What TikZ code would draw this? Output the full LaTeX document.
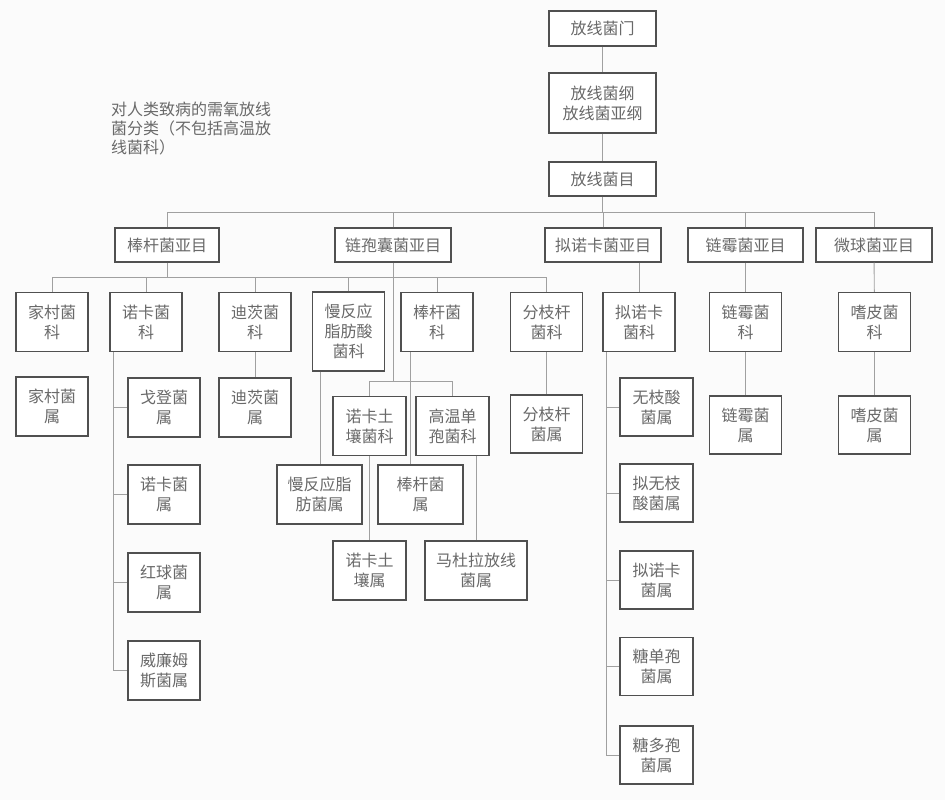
\documentclass[tikz,border=0pt]{standalone}
\usepackage{fontspec}
\setmainfont{Noto Sans CJK SC}
\tikzset{every picture/.style={line width=0.75pt}}
\definecolor{boxline}{RGB}{80,80,80}
\definecolor{linkline}{RGB}{160,160,160}
\definecolor{txtgray}{RGB}{105,105,105}
\tikzset{
  box/.style={draw=boxline, line width=1.1pt, fill=white, text=txtgray, align=center, inner sep=0.75pt,
    font=\fontsize{16}{20}\selectfont, minimum width=72, minimum height=59},
  rankbox/.style={box, minimum height=34},
  link/.style={draw=linkline, line width=0.9pt}
}
\begin{document}
\begin{tikzpicture}[x=1pt,y=1pt,yscale=-1,xscale=1]
\useasboundingbox[fill=gray!3] (0,0) rectangle (945,800);

% Text Node
\node [anchor=north west, inner sep=0.75pt, text=txtgray, align=left, font=\fontsize{16}{19}\selectfont] (note) at (110,101)
  {对人类致病的需氧放线\\菌分类（不包括高温放\\线菌科）};

%Shape: Rectangle, phylum to order
\node [rankbox, minimum width=107, minimum height=35] (fxjmen) at (602.5,28.5) {放线菌门};
\node [box, minimum width=107, minimum height=60] (fxjgang) at (602.5,103) {放线菌纲\\放线菌亚纲};
\node [rankbox, minimum width=107] (fxjmu) at (602.5,179) {放线菌目};

%Shape: Rectangle, suborders
\node [rankbox, minimum width=104] (bgy) at (167,245) {棒杆菌亚目};
\node [rankbox, minimum width=116] (lby) at (393,245) {链孢囊菌亚目};
\node [rankbox, minimum width=116] (nny) at (603,245) {拟诺卡菌亚目};
\node [rankbox, minimum width=115] (lmy) at (745.5,245) {链霉菌亚目};
\node [rankbox, minimum width=116] (wqy) at (874,245) {微球菌亚目};

%Shape: Rectangle, families
\node [box] (jck) at (52,322) {家村菌\\科};
\node [box] (nkk) at (146,322) {诺卡菌\\科};
\node [box] (dck) at (255,322) {迪茨菌\\科};
\node [box, minimum height=79] (mfk) at (348.5,331.5) {慢反应\\脂肪酸\\菌科};
\node [box] (bgk) at (437,322) {棒杆菌\\科};
\node [box] (fzk) at (546.5,322) {分枝杆\\菌科};
\node [box] (nnk) at (639,322) {拟诺卡\\菌科};
\node [box] (lmk) at (745.5,322) {链霉菌\\科};
\node [box] (spk) at (874.5,322) {嗜皮菌\\科};
\node [box, minimum width=73] (ntk) at (369.5,426) {诺卡土\\壤菌科};
\node [box, minimum width=73] (gwk) at (452.5,426) {高温单\\孢菌科};

%Shape: Rectangle, genera
\node [box] (jcs) at (52,406.5) {家村菌\\属};
\node [box] (gds) at (164,407.5) {戈登菌\\属};
\node [box] (nks) at (164,494.5) {诺卡菌\\属};
\node [box] (hqs) at (164,582.5) {红球菌\\属};
\node [box] (wls) at (164,670.5) {威廉姆\\斯菌属};
\node [box] (dcs) at (255,407.5) {迪茨菌\\属};
\node [box, minimum width=85] (mfs) at (319.5,494.5) {慢反应脂\\肪菌属};
\node [box, minimum width=85] (bgs) at (420.5,494.5) {棒杆菌\\属};
\node [box, minimum width=73] (nts) at (369.5,570.5) {诺卡土\\壤属};
\node [box, minimum width=102] (mds) at (476,570.5) {马杜拉放线\\菌属};
\node [box, minimum height=58] (fzs) at (546.5,424) {分枝杆\\菌属};
\node [box, minimum width=73, minimum height=58] (wzs) at (656.5,407) {无枝酸\\菌属};
\node [box, minimum width=73, minimum height=58] (nws) at (656.5,493) {拟无枝\\酸菌属};
\node [box, minimum width=73, minimum height=58] (nns) at (656.5,580) {拟诺卡\\菌属};
\node [box, minimum width=73, minimum height=58] (tds) at (656.5,666.5) {糖单孢\\菌属};
\node [box, minimum width=73, minimum height=58] (tys) at (656.5,755) {糖多孢\\菌属};
\node [box, minimum height=58] (lms) at (745.5,425) {链霉菌\\属};
\node [box, minimum height=58] (sps) at (874.5,425) {嗜皮菌\\属};

%Straight Lines, upper ranks
\draw [link] (fxjmen) -- (fxjgang);
\draw [link] (fxjgang) -- (fxjmu);
\draw [link] (fxjmu.south) -- ++(0,16) coordinate (bus1);
\draw [link] (bgy.north) |- (bus1) -| (wqy.north);
\foreach \n in {lby,nny,lmy} \draw [link] (\n.north) -- (\n.north |- bus1);

%Straight Lines, families
\draw [link] (bgy.south) -- ++(0,15) coordinate (bus2);
\draw [link] (jck.north) |- (bus2) -| (fzk.north);
\foreach \n in {nkk,dck,mfk,bgk} \draw [link] (\n.north) -- (\n.north |- bus2);
\draw [link] (lby.south) -- ++(0,119) coordinate (bus3);
\draw [link] (ntk.north) |- (bus3) -| (gwk.north);
\draw [link] (nnk.north |- nny.south) -- (nnk.north);
\draw [link] (lmy) -- (lmk);
\draw [link] (wqy) -- (spk);

%Straight Lines, genera
\path (nkk.south west) ++(4,0) coordinate (nkkx);
\draw [link] (nkkx) |- (wls.west);
\foreach \n in {gds,nks,hqs} \draw [link] (nkkx |- \n.west) -- (\n.west);
\draw [link] (dck) -- (dcs);
\path (mfk.south west) ++(8,0) coordinate (mfkx);
\draw [link] (mfkx) -- (mfkx |- mfs.north);
\path (bgk.south west) ++(10,0) coordinate (bgkx);
\draw [link] (bgkx) -- (bgkx |- bgs.north);
\draw [link] (ntk) -- (nts);
\path (gwk.south) ++(24,0) coordinate (gwkx);
\draw [link] (gwkx) -- (gwkx |- mds.north);
\draw [link] (fzk) -- (fzs);
\path (nnk.south west) ++(4,0) coordinate (nnkx);
\draw [link] (nnkx) |- (tys.west);
\foreach \n in {wzs,nws,nns,tds} \draw [link] (nnkx |- \n.west) -- (\n.west);
\draw [link] (lmk) -- (lms);
\draw [link] (spk) -- (sps);
\end{tikzpicture}
\end{document}
